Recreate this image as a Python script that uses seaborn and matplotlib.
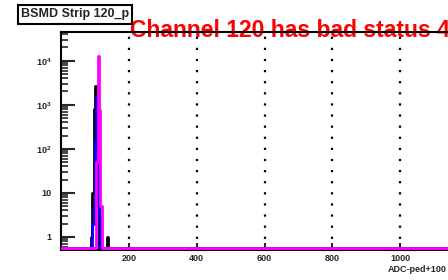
#!/usr/bin/env python3
"""
BSMD strip pedestal histogram, ROOT-like look
"""

import numpy as np
import pandas as pd
import matplotlib
matplotlib.use("Agg")
import matplotlib.pyplot as plt
import seaborn as sns
from matplotlib.ticker import FixedLocator, MultipleLocator, LogLocator, NullFormatter

# bins near the pedestal peak (ADC-ped+100), width 4
peak_bin_starts = [88, 92, 96, 100, 104, 108, 112, 116, 120, 124, 128, 132, 136]
black_counts = [1, 10, 800, 2700, 100, 5, 0, 0, 0, 0, 0, 0, 1]
blue_counts = [0, 2, 5, 150, 1500, 200, 3, 0, 0, 0, 0, 0, 0]
magenta_counts = [0, 0, 0, 0, 50, 13000, 750, 5, 0, 0, 0, 0, 0]
series_colors = ["black", "blue", "magenta"]

x_range = (0, 1200)
bin_width = 4
y_bottom = 0.5
empty_bin_level = 0.56   # where ROOT puts empty bins (just above the frame)
y_top = 45000

y_ticks = [1, 10, 100, 1000, 10000]
y_ticklabels = ["1", "10", r"$\mathbf{10^{2}}$", r"$\mathbf{10^{3}}$", r"$\mathbf{10^{4}}$"]
x_ticks = [200, 400, 600, 800, 1000]

title_text = "BSMD Strip 120_p"
warning_text = "Channel 120 has bad status 4"
x_label = "ADC-ped+100"


def full_counts(counts):
    # expand the peak counts onto the whole axis range, empty bins elsewhere
    edges = np.arange(x_range[0], x_range[1] + bin_width, bin_width)
    values = np.zeros(len(edges) - 1)
    for start, c in zip(peak_bin_starts, counts):
        values[(start - x_range[0]) // bin_width] = c
    return edges, values


sns.set_style("ticks")
plt.rcParams["font.family"] = ["Liberation Sans", "DejaVu Sans"]
plt.rcParams["mathtext.fontset"] = "custom"
plt.rcParams["mathtext.bf"] = "Liberation Sans:bold"
plt.rcParams["mathtext.rm"] = "Liberation Sans"

fig = plt.figure(figsize=(4.48, 2.8), dpi=100)
fig.patch.set_facecolor("white")
ax = fig.add_axes([61 / 448, 30 / 280, (468 - 61) / 448, 218 / 280])
ax.set_facecolor("white")

for counts, color in zip([black_counts, blue_counts, magenta_counts], series_colors):
    edges, values = full_counts(counts)
    df = pd.DataFrame({"adc": (edges[:-1] + edges[1:]) / 2,
                       "n": np.clip(values, empty_bin_level, None)})
    sns.histplot(data=df, x="adc", weights="n", binwidth=bin_width, binrange=x_range,
                 element="step", fill=False, color=color, linewidth=2.0, ax=ax, zorder=3)

ax.set_yscale("log")
ax.set_xlim(*x_range)
ax.set_ylim(y_bottom, y_top)
ax.set_xlabel("")
ax.set_ylabel("")

ax.yaxis.set_major_locator(FixedLocator(y_ticks))
ax.set_yticklabels(y_ticklabels, fontsize=6.5, fontweight="bold")
ax.yaxis.set_minor_locator(LogLocator(base=10, subs=np.arange(2, 10)))
ax.yaxis.set_minor_formatter(NullFormatter())

ax.xaxis.set_major_locator(FixedLocator(x_ticks))
ax.set_xticklabels([str(t) for t in x_ticks], fontsize=6.5, fontweight="bold")
ax.xaxis.set_minor_locator(MultipleLocator(50))

ax.tick_params(axis="y", which="major", direction="in", length=10, width=1.5, pad=7)
ax.tick_params(axis="y", which="minor", direction="in", length=5, width=1.2)
ax.tick_params(axis="x", which="major", direction="in", length=5, width=1.5, pad=3)
ax.tick_params(axis="x", which="minor", direction="in", length=2.5, width=1.5)

ax.xaxis.grid(True, which="major", color="black", linestyle=(0, (1, 4)), linewidth=1.6)
ax.yaxis.grid(False)

for side in ["left", "top", "bottom"]:
    ax.spines[side].set_linewidth(1.5)
    ax.spines[side].set_color("black")
ax.spines["right"].set_visible(False)

# warning text sits under the frame line; it runs off the right edge as in the original
ax.text(130 / 448, 1 - 37 / 280, warning_text, transform=fig.transFigure,
        color="red", fontsize=16.5, fontweight="bold", zorder=1, clip_on=False)

fig.text(21 / 448, 1 - 14.5 / 280, title_text, fontsize=9, fontweight="bold",
         va="center", ha="left",
         bbox=dict(boxstyle="square,pad=0.25", fc="white", ec="black", lw=1.5))

fig.text(447 / 448, 1 - 269 / 280, x_label, fontsize=6.5, fontweight="bold",
         ha="right", va="center")

fig.savefig("out.png", dpi=100)
plt.close(fig)
